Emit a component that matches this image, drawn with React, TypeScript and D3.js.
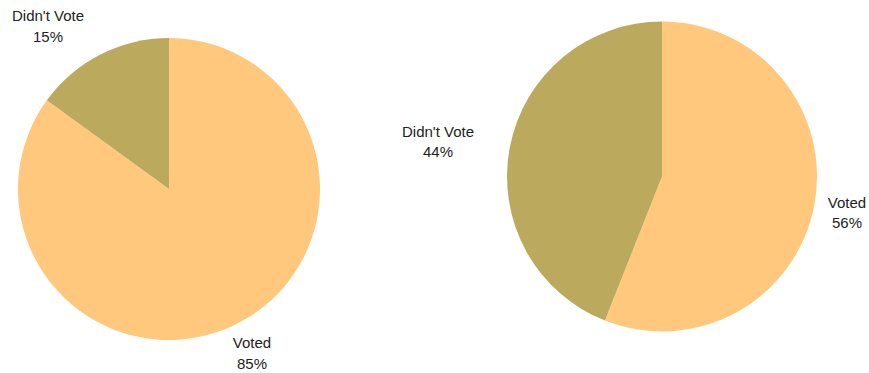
import React from "react";
import * as d3 from "d3";

const categories = ["Voted", "Didn't Vote"];
const leftValues = [85, 15];
const rightValues = [56, 44];
const colors = ["#FFC87C", "#BBAA5D"];

const WIDTH = 869;
const HEIGHT = 373;

type PieSpec = {
  values: number[];
  cx: number;
  cy: number;
  r: number;
  labelOffsets: [number, number][]; // first-line baseline offset from centre
};

const pies: PieSpec[] = [
  { values: leftValues, cx: 169, cy: 189, r: 151, labelOffsets: [[83, 159], [-121, -168]] },
  { values: rightValues, cx: 662, cy: 176.5, r: 155, labelOffsets: [[185, 31], [-224, -40]] },
];

function Pie({ spec }: { spec: PieSpec }) {
  const pie = d3.pie<number>().sort(null).value((d) => d);
  const arcs = pie(spec.values);
  const arcGen = d3.arc<d3.PieArcDatum<number>>().innerRadius(0).outerRadius(spec.r);
  return (
    <g transform={`translate(${spec.cx},${spec.cy})`}>
      {arcs.map((a, i) => (
        <path key={i} d={arcGen(a) || ""} fill={colors[i]} />
      ))}
      {arcs.map((a, i) => {
        const [dx, dy] = spec.labelOffsets[i];
        const total = d3.sum(spec.values);
        return (
          <text
            key={"t" + i}
            x={dx}
            y={dy}
            textAnchor="middle"
            fontFamily="'Liberation Sans', Arial, sans-serif"
            fontSize={15}
            fill="#222222"
          >
            <tspan x={dx} y={dy}>{categories[i]}</tspan>
            <tspan x={dx} y={dy + 20.5}>{Math.round((a.value / total) * 100)}%</tspan>
          </text>
        );
      })}
    </g>
  );
}

export default function App() {
  return (
    <svg
      width={WIDTH}
      height={HEIGHT}
      style={{ position: "absolute", left: 0, top: 0, background: "#fff" }}
    >
      {pies.map((p, i) => (
        <Pie key={i} spec={p} />
      ))}
    </svg>
  );
}
